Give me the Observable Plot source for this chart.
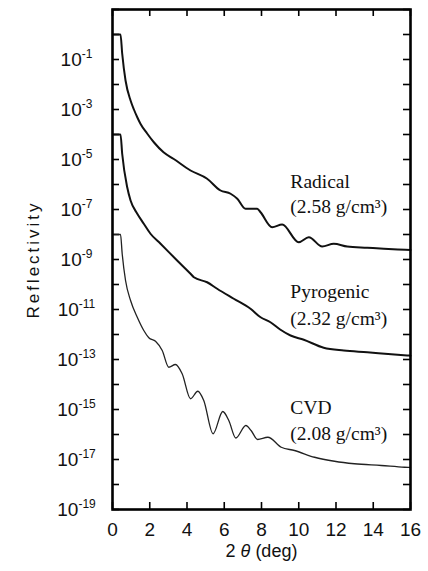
<!DOCTYPE html>
<html><head><meta charset="utf-8">
<script src="https://cdn.jsdelivr.net/npm/d3@7"></script>
<script src="https://cdn.jsdelivr.net/npm/@observablehq/plot@0.6"></script>
<style>body{margin:0;background:#fff}</style>
</head><body><div id="chart"></div>
<script>
// x ticks (2θ, deg) and y decades
const xTicks = [0, 2, 4, 6, 8, 10, 12, 14, 16];
const yExponents = d3.range(-19, 2);            // every decade gets a tick
const yLabelExponents = d3.range(-19, 0, 2);     // odd decades are labelled

// series: 2θ (deg) and log10(reflectivity)
const radicalX   = [0.06, 0.43, 0.52, 0.70, 0.97, 1.15, 1.33, 1.50, 1.86, 2.22, 2.74, 3.29, 4.19, 5.08, 5.80, 6.34, 6.70, 7.14, 7.77, 7.95, 8.57, 9.11, 10.0, 10.54, 11.26, 11.88, 12.6, 13.68, 14.57, 15.73, 16.0];
const radicalLog = [0, 0, -0.76, -1.84, -2.64, -3.0, -3.31, -3.57, -3.96, -4.31, -4.71, -4.98, -5.44, -5.77, -6.24, -6.37, -6.57, -6.97, -6.97, -7.11, -7.71, -7.60, -8.31, -8.11, -8.48, -8.37, -8.48, -8.53, -8.57, -8.61, -8.62];

const pyroX   = [0.06, 0.43, 0.52, 0.79, 0.97, 1.33, 1.68, 2.04, 2.58, 3.47, 4.19, 4.37, 5.08, 5.62, 6.51, 7.41, 7.95, 8.48, 9.0, 9.56, 10.27, 11.34, 12.42, 13.68, 14.8, 15.82, 16.0];
const pyroLog = [-4, -4, -4.77, -6.11, -6.64, -7.17, -7.57, -7.97, -8.37, -9.04, -9.57, -9.71, -9.91, -10.17, -10.57, -10.97, -11.31, -11.51, -11.80, -12.04, -12.21, -12.53, -12.64, -12.71, -12.78, -12.84, -12.85];

const cvdX   = [0.06, 0.43, 0.52, 0.70, 0.97, 1.33, 1.68, 1.95, 2.31, 2.67, 3.02, 3.38, 3.74, 4.19, 4.58, 4.90, 5.40, 5.92, 6.25, 6.62, 7.16, 7.45, 7.79, 8.34, 9.06, 9.77, 10.85, 11.92, 12.99, 14.43, 15.68, 16.0];
const cvdLog = [-8, -8, -8.77, -9.84, -10.64, -11.31, -11.84, -12.13, -12.27, -12.64, -13.31, -13.20, -13.57, -14.57, -14.27, -14.64, -15.97, -15.08, -15.45, -16.14, -15.64, -15.85, -16.20, -16.11, -16.51, -16.64, -16.91, -17.07, -17.17, -17.24, -17.31, -17.32];

const seriesNames = ["Radical", "Pyrogenic", "CVD"];
const seriesDensity = ["(2.58 g/cm³)", "(2.32 g/cm³)", "(2.08 g/cm³)"];

const toRows = (xs, ls, name) => xs.map((x, i) => ({x, y: 10 ** ls[i], name}));
const radical = toRows(radicalX, radicalLog, "Radical");
const pyro = toRows(pyroX, pyroLog, "Pyrogenic");
const cvd = toRows(cvdX, cvdLog, "CVD");

// label anchors (data coords)
const labelRows = seriesNames.map((n, i) => ({
  name: n, dens: seriesDensity[i],
  x: 9.55,
  y1: 10 ** [-6.12, -10.53, -15.17][i],
  y2: 10 ** [-7.14, -11.60, -16.21][i]
}));

const yAll = yExponents.map(e => 10 ** e);
const yLab = yLabelExponents.map(e => 10 ** e);
const fmtExp = v => "10^" + Math.round(Math.log10(v));

// frame geometry, used to turn a 7px inward tick into scale units
const W = 428, H = 571, mL = 112, mR = 18, mT = 9, mB = 62;
const xDom = [0, 16], yDomExp = [-19, 1];
const tickPx = 7;
const tickDX = tickPx * (xDom[1] - xDom[0]) / (W - mL - mR);
const tickDE = tickPx * (yDomExp[1] - yDomExp[0]) / (H - mT - mB);
const tickStyle = {stroke: "#000", strokeWidth: 1.6};

const serif = "'Liberation Serif', 'Times New Roman', serif";

const chart = Plot.plot({
  width: W, height: H,
  marginLeft: mL, marginRight: mR, marginTop: mT, marginBottom: mB,
  style: {fontFamily: "'Liberation Sans', Arial, sans-serif", fontSize: "19px", color: "#111", background: "#fff"},
  x: {domain: xDom},
  y: {type: "log", domain: yDomExp.map(e => 10 ** e)},
  marks: [
    Plot.axisX(xTicks, {anchor: "bottom", tickSize: 0, tickPadding: 13, label: null, tickFormat: d => String(d), fontSize: 19}),
    Plot.axisY(yLab, {anchor: "left", tickSize: 0, tickPadding: 36, textAnchor: "middle", tickFormat: fmtExp, label: null, fontSize: 19}),
    // inward ticks on all four sides
    Plot.ruleY(yAll, {y: d => d, x1: xDom[0], x2: xDom[0] + tickDX, ...tickStyle}),
    Plot.ruleY(yAll, {y: d => d, x1: xDom[1] - tickDX, x2: xDom[1], ...tickStyle}),
    Plot.ruleX(xTicks, {x: d => d, y1: 10 ** yDomExp[0], y2: 10 ** (yDomExp[0] + tickDE), ...tickStyle}),
    Plot.ruleX(xTicks, {x: d => d, y1: 10 ** (yDomExp[1] - tickDE), y2: 10 ** yDomExp[1], ...tickStyle}),
    Plot.line(radical, {x: "x", y: "y", stroke: "#111", strokeWidth: 2, curve: "monotone-x"}),
    Plot.line(pyro, {x: "x", y: "y", stroke: "#111", strokeWidth: 2, curve: "monotone-x"}),
    Plot.line(cvd, {x: "x", y: "y", stroke: "#222", strokeWidth: 1.3, curve: "monotone-x"}),
    Plot.frame({stroke: "#000", strokeWidth: 2.6}),
    Plot.text(labelRows, {x: "x", y: "y1", text: "name", textAnchor: "start", lineAnchor: "bottom", fontFamily: serif, fontSize: 19.5, fill: "#111"}),
    Plot.text(labelRows, {x: "x", y: "y2", text: "dens", textAnchor: "start", lineAnchor: "bottom", fontFamily: serif, fontSize: 19.5, fill: "#111"}),
    Plot.text(["Reflectivity"], {frameAnchor: "left", textAnchor: "middle", rotate: -90, dx: -79, fontSize: 17, fill: "#111"}),
    Plot.text(["2 θ (deg)"], {frameAnchor: "bottom", textAnchor: "middle", dy: 47, lineAnchor: "bottom", fontSize: 18, fill: "#111"})
  ]
});

// superscript exponents on y tick labels, spacing and italic θ
d3.select(chart).selectAll("text").each(function () {
  const t = this.textContent;
  if (/^10\^-?\d+$/.test(t)) {
    const e = t.slice(3);
    const s = d3.select(this);
    s.text(null);
    s.append("tspan").text("10");
    s.append("tspan").attr("font-size", 12).attr("dy", "-0.65em").text(e);
  } else if (t === "Reflectivity") {
    d3.select(this).style("letter-spacing", "3px");
  } else if (t === "2 θ (deg)") {
    const s = d3.select(this);
    s.text(null);
    s.append("tspan").text("2 ");
    s.append("tspan").attr("font-style", "italic").text("θ");
    s.append("tspan").text(" (deg)");
  }
});
document.getElementById("chart").append(chart);
</script>
</body></html>
